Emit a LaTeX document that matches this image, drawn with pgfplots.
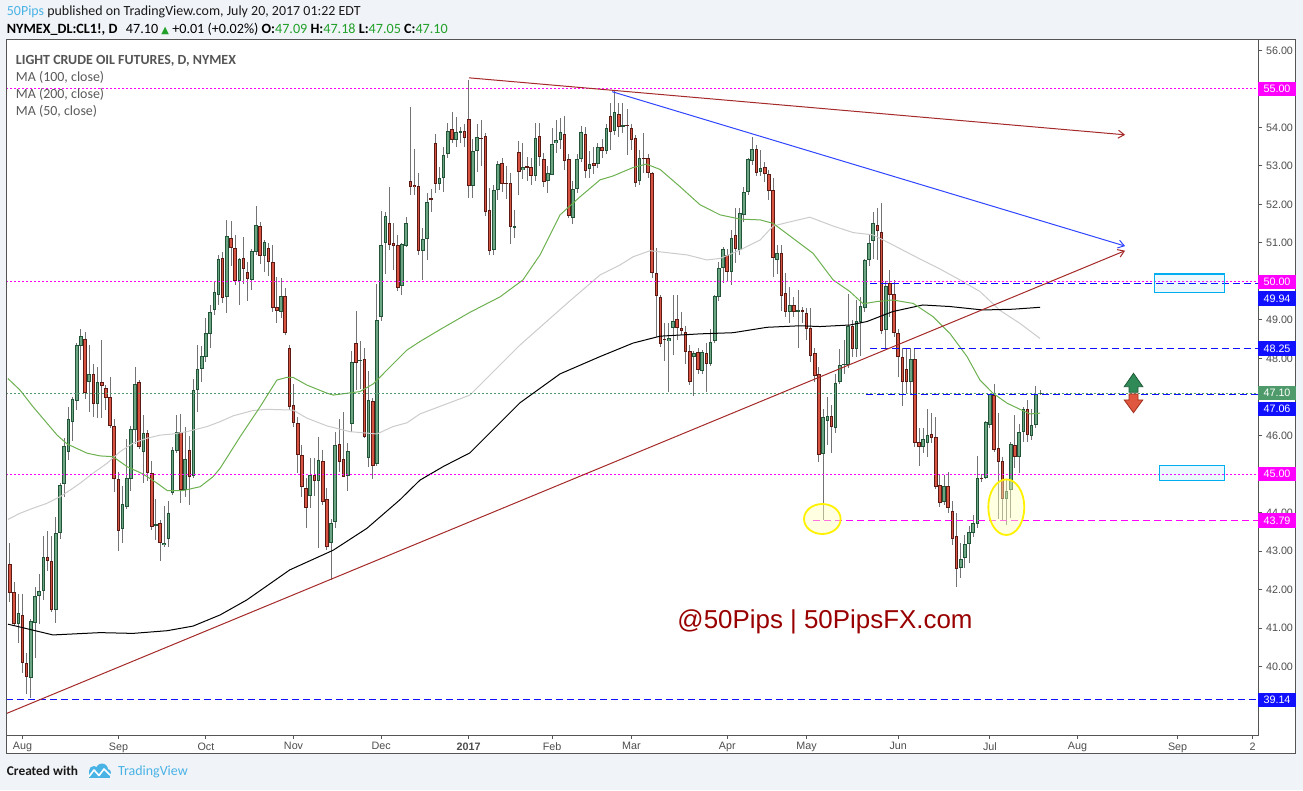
\documentclass[border=0pt]{standalone}
\usepackage{pgfplots}
\pgfplotsset{compat=1.18}
\usepackage{pgfplotstable}
\usepackage{fontspec}
\setmainfont{Liberation Sans}
\newfontfamily\calfont{Carlito}
\newfontfamily\dejavu{DejaVu Sans}
\usetikzlibrary{arrows.meta}

\definecolor{pagebg}{HTML}{F0F3F7}
\definecolor{framec}{HTML}{555555}
\definecolor{labgrey}{HTML}{4D4D4D}
\definecolor{wick}{HTML}{737375}
\definecolor{upf}{HTML}{6BA583}
\definecolor{upb}{HTML}{225437}
\definecolor{dnf}{HTML}{D75442}
\definecolor{dnb}{HTML}{5B1A13}
\definecolor{ma50}{HTML}{6DB150}
\definecolor{ma100}{HTML}{CCCCCC}
\definecolor{mag}{HTML}{FF00FF}
\definecolor{blu}{HTML}{1010FF}
\definecolor{trendred}{HTML}{A52A2A}
\definecolor{trendblue}{HTML}{3045FF}
\definecolor{priceg}{HTML}{4E9A6A}
\definecolor{tvblue}{HTML}{4AB3E6}
\definecolor{hdrgreen}{HTML}{21A12A}
\definecolor{wm}{HTML}{990000}

% up candles: index (trading day, 0 = 1 Aug 2016), open, high, low, close
\pgfplotstableread{
i o h l c
-1 41.10 41.88 40.60 41.38
2 39.69 41.23 39.19 41.17
3 41.14 42.07 40.21 41.83
4 41.83 42.40 41.10 41.97
5 41.97 43.39 41.73 42.85
8 41.48 43.89 41.12 43.46
9 43.46 44.77 43.31 44.71
10 44.75 45.93 44.41 45.73
11 45.58 46.73 45.36 46.43
12 46.36 46.99 45.87 46.95
13 46.90 48.39 46.65 48.35
14 48.33 48.76 47.96 48.58
16 47.40 48.35 46.62 47.60
18 46.81 47.79 46.45 47.40
24 43.56 44.69 43.20 44.22
25 44.15 45.90 44.10 44.89
26 44.86 46.25 44.57 46.17
27 46.13 47.79 45.78 47.34
29 45.58 46.52 44.76 46.06
32 43.65 44.34 43.29 43.70
34 43.16 44.17 43.10 43.22
35 43.30 44.30 43.10 44.00
36 44.50 45.69 44.45 45.62
37 45.61 46.53 45.55 46.08
39 44.58 46.23 44.41 45.38
41 44.96 47.46 44.90 47.18
42 47.18 48.35 46.62 47.72
43 47.72 48.32 47.40 48.06
44 48.05 49.04 47.92 48.65
45 48.64 49.39 48.28 49.20
46 49.26 49.99 49.13 49.72
47 49.65 50.69 49.39 50.58
49 49.59 51.61 49.19 51.18
52 50.01 50.60 49.39 50.58
55 50.05 50.84 49.78 50.79
56 50.77 51.96 50.69 51.47
58 50.67 51.08 50.25 51.03
62 49.22 50.10 49.04 49.62
69 44.43 45.41 44.13 44.97
71 44.83 45.97 43.09 45.36
74 43.20 43.82 42.25 43.74
75 43.76 46.10 43.59 45.75
78 44.95 45.80 44.57 45.60
79 46.30 48.20 46.10 47.90
81 47.95 48.45 47.22 47.96
83 45.42 47.67 45.17 46.92
85 45.25 49.93 45.20 48.99
86 49.09 51.83 48.97 50.95
87 51.01 51.81 50.19 51.70
91 49.88 51.01 49.65 50.97
92 50.93 51.68 50.90 51.51
96 50.80 51.40 50.04 51.10
97 51.11 52.30 50.56 52.06
100 52.54 52.98 52.38 52.68
101 52.70 53.50 52.33 53.29
102 53.30 54.13 53.22 53.91
104 53.68 54.28 53.50 53.87
105 53.88 54.02 53.59 53.90
108 52.49 53.70 52.16 53.39
109 53.40 54.10 52.84 53.76
113 50.82 52.50 50.70 52.39
114 52.39 53.13 52.13 53.05
118 51.41 51.87 51.12 51.44
120 52.89 53.61 52.66 52.97
123 52.75 54.13 52.62 53.74
126 52.62 53.00 52.29 52.81
127 52.78 54.00 52.77 53.57
128 53.59 54.20 53.33 53.68
129 53.68 54.24 53.43 53.88
132 51.66 52.60 51.50 52.40
133 52.40 53.30 52.30 53.18
134 53.17 54.05 53.10 53.88
136 52.92 53.40 52.70 53.05
138 53.04 53.60 52.95 53.49
140 53.40 54.10 53.30 54.00
142 53.92 54.97 53.80 54.39
144 54.04 54.63 53.85 54.06
148 52.60 53.42 52.50 53.22
155 48.46 48.91 47.12 48.52
156 48.78 49.65 48.09 48.97
161 48.05 48.20 47.03 48.15
163 47.68 48.22 47.61 48.16
165 47.87 48.76 47.80 48.44
166 48.46 49.65 48.41 49.62
167 49.61 50.52 49.50 50.34
168 50.34 50.89 49.95 50.85
170 50.26 51.34 49.91 51.14
172 50.82 51.90 50.70 51.77
173 51.73 52.46 51.55 52.32
174 52.33 53.20 52.25 53.17
175 53.14 53.76 53.03 53.43
177 52.85 53.41 52.75 52.96
181 50.55 50.95 50.20 50.75
184 49.22 49.85 48.93 49.39
186 49.24 49.78 48.26 49.25
192 45.51 46.68 43.81 46.47
193 46.37 47.01 45.75 46.50
195 46.19 47.60 46.06 47.37
196 47.40 48.25 47.35 47.83
197 47.84 48.48 47.61 47.87
198 47.83 49.67 47.75 48.85
200 48.24 49.52 48.05 48.97
201 48.96 49.61 48.07 49.36
202 49.32 50.58 49.20 50.56
203 50.55 51.20 50.40 51.00
204 51.06 51.81 50.58 51.53
207 48.74 50.00 48.26 49.88
213 47.40 48.26 47.09 48.00
216 45.71 46.19 45.54 45.90
217 45.80 46.70 45.45 46.01
221 44.26 44.97 44.19 44.69
225 42.55 43.20 42.29 42.78
226 42.81 43.41 42.55 43.18
227 43.18 43.65 42.68 43.50
228 43.47 43.93 43.37 43.74
229 43.70 45.47 43.60 44.90
231 44.90 46.38 44.88 46.34
232 46.27 47.09 46.19 47.07
236 44.34 44.86 43.67 44.56
237 44.59 45.84 43.85 45.79
239 45.45 46.31 45.02 46.10
240 46.10 46.75 45.84 46.68
242 46.00 46.70 45.88 46.27
243 46.27 47.29 46.19 47.09
244 47.09 47.18 47.05 47.10
}\upc

% down candles
\pgfplotstableread{
i o h l c
-3 42.65 43.20 41.68 41.90
-2 41.93 42.20 41.05 41.10
0 41.35 41.88 39.84 40.08
1 40.08 40.34 39.29 39.72
6 42.84 43.53 42.49 42.75
7 42.74 43.39 41.42 41.48
15 48.50 48.70 46.95 47.10
17 47.60 47.87 46.47 46.81
19 47.38 48.48 46.46 47.29
20 47.23 47.31 46.65 46.97
21 46.99 47.51 46.20 46.25
22 46.25 46.43 44.54 44.86
23 44.86 45.04 43.01 43.53
28 47.38 47.45 45.65 45.71
30 46.06 46.14 44.83 45.02
31 45.02 45.35 43.55 43.63
33 43.74 43.80 42.75 43.20
38 46.08 46.56 44.24 44.58
40 45.62 45.99 44.19 44.93
48 50.60 50.77 49.43 49.56
50 51.12 51.57 50.39 50.88
51 50.86 51.21 49.91 50.02
53 50.60 51.16 49.93 50.32
54 50.24 50.51 49.50 50.06
57 51.45 51.55 50.45 50.65
59 50.86 50.99 50.13 50.50
60 50.50 50.95 49.20 49.30
61 49.33 50.11 48.91 49.24
63 49.62 49.82 48.60 48.67
64 48.26 48.35 46.65 46.75
65 46.78 47.35 46.23 46.33
66 46.32 46.47 45.02 45.49
67 45.49 45.75 44.39 44.67
68 44.63 44.89 43.59 44.13
70 44.97 45.41 44.43 44.83
72 45.34 45.62 44.20 44.28
73 44.35 44.63 43.03 43.11
76 45.78 46.42 45.06 45.32
77 45.39 46.62 44.91 44.93
80 48.39 49.23 47.18 47.89
82 47.98 48.26 45.93 45.95
84 46.90 46.97 44.86 45.22
88 51.51 52.46 50.82 50.95
89 51.01 51.51 50.30 50.93
90 50.95 51.22 49.76 49.84
93 52.61 54.54 52.25 52.46
94 52.52 53.44 52.25 52.46
95 52.48 52.81 50.70 50.78
98 52.17 52.40 51.80 52.13
99 53.60 53.82 52.29 52.52
103 53.96 54.41 53.59 53.68
106 53.90 54.10 53.50 53.72
107 54.22 55.23 52.16 52.49
110 53.74 54.20 53.00 53.71
111 53.78 53.85 51.70 51.80
112 51.86 52.42 50.70 50.80
115 53.07 53.20 52.33 52.54
116 52.57 53.00 52.15 52.54
117 52.55 52.83 50.97 51.41
119 53.36 53.66 52.25 52.85
121 52.98 53.23 52.62 52.97
122 52.97 53.20 52.50 52.75
124 53.78 54.11 53.00 53.23
125 53.18 53.35 52.45 52.59
130 53.83 54.30 52.90 53.12
131 53.18 53.30 51.65 51.71
135 53.83 54.00 52.70 52.88
137 53.08 53.50 52.80 53.00
139 53.49 53.70 53.20 53.38
141 54.30 54.63 53.42 53.89
143 54.35 54.63 53.76 54.02
145 54.07 54.47 53.29 54.05
146 53.98 54.10 53.42 53.68
147 53.72 53.80 52.45 52.57
149 53.21 53.85 52.81 53.19
150 53.20 53.30 52.70 52.81
151 52.81 52.85 50.08 50.21
152 50.23 50.86 48.57 49.63
153 49.60 49.65 48.30 48.38
154 48.50 48.91 47.94 48.49
157 49.02 49.65 48.48 48.78
158 48.80 49.22 48.61 48.72
159 48.70 48.85 47.87 48.18
160 48.20 48.35 47.30 47.40
162 48.16 48.26 47.61 47.70
164 48.13 48.39 47.12 47.85
169 50.70 50.84 49.99 50.26
171 51.20 51.90 50.47 50.84
176 53.43 53.55 52.74 52.83
178 52.98 53.10 52.59 52.78
179 52.78 52.90 52.12 52.36
180 52.38 52.68 50.12 50.60
182 50.73 50.95 49.24 49.63
183 49.69 50.23 49.09 49.22
185 49.39 49.60 49.09 49.22
187 49.26 49.33 48.91 49.22
188 49.17 49.30 48.48 48.76
189 48.78 49.30 47.90 48.07
190 48.13 48.26 47.39 47.55
191 47.61 47.77 45.32 45.49
194 46.50 46.79 45.55 46.21
199 48.85 49.00 48.05 48.24
205 51.47 51.90 50.56 51.32
206 51.29 52.03 48.65 48.72
208 49.95 50.30 49.09 49.65
209 49.67 50.04 48.57 48.65
210 48.65 48.77 47.53 48.03
211 48.05 48.26 46.77 47.40
212 47.72 48.26 47.11 47.40
214 48.00 48.26 45.70 45.80
215 45.84 46.19 45.21 45.71
218 46.03 46.58 45.80 45.94
219 45.95 46.49 44.60 44.67
220 44.71 44.97 44.15 44.24
222 44.69 45.06 44.00 44.11
223 44.05 44.30 43.15 43.30
224 43.39 43.98 42.07 42.52
230 44.90 45.00 44.80 44.88
233 47.05 47.35 45.58 45.62
234 45.67 46.58 43.82 45.32
235 45.35 45.45 43.80 44.34
238 45.75 46.53 45.15 45.45
241 46.68 46.92 45.84 46.01
}\dnc

% MA (200, close)
\pgfplotstableread{
i v
-3.5 41.10
7.3 40.82
18.6 40.88
26.5 40.86
34.7 40.93
40.9 41.05
47.4 41.34
53.8 41.73
64.1 42.51
74.5 43.02
82.6 43.59
90.5 44.33
95.3 44.84
101.0 45.20
107.3 45.55
119.3 46.85
128.9 47.60
138.5 48.05
146.4 48.40
152.9 48.58
162.5 48.64
170.4 48.67
178.5 48.81
186.4 48.85
191.3 48.83
198.4 48.87
202.5 48.96
208.7 49.22
215.9 49.39
222.4 49.35
230.3 49.26
237.5 49.28
244.0 49.33
}\maTwo

% MA (50, close)
\pgfplotstableread{
i v
-3.5 47.48
-0.6 47.18
2.5 46.75
8.3 46.01
10.7 45.78
15.5 45.54
18.6 45.47
21.7 45.45
25.1 45.19
28.9 45.00
32.3 44.76
34.7 44.57
38.5 44.57
42.6 44.67
45.7 44.93
47.4 45.15
52.2 45.97
57.0 46.75
61.0 47.44
63.4 47.51
64.9 47.51
68.2 47.31
73.0 47.10
74.5 47.05
80.9 47.14
84.1 47.34
87.4 47.70
92.2 48.22
95.3 48.44
100.1 48.75
107.3 49.20
114.5 49.60
120.0 50.04
124.1 50.69
128.9 51.73
133.7 52.20
138.5 52.64
141.6 52.74
146.4 52.96
149.6 53.05
152.9 52.91
157.7 52.46
162.5 51.99
167.3 51.73
172.1 51.62
176.9 51.60
180.0 51.51
184.8 51.12
189.6 50.73
194.4 50.04
198.4 49.74
201.6 49.42
204.9 49.48
208.7 49.52
213.6 49.43
218.3 49.09
222.4 48.65
226.5 48.05
229.6 47.44
232.7 47.10
236.1 46.84
239.2 46.68
241.6 46.56
244.0 46.58
}\maFifty

% MA (100, close)
\pgfplotstableread{
i v
-3.5 43.82
-0.6 43.98
2.5 44.11
5.9 44.24
9.0 44.41
11.4 44.58
13.8 44.76
16.9 45.02
20.3 45.28
23.4 45.58
26.5 45.80
29.9 45.93
33.0 46.01
36.1 46.04
39.4 46.10
44.2 46.23
47.4 46.36
50.5 46.51
55.3 46.65
58.6 46.68
64.9 46.66
68.2 46.45
73.0 46.25
78.5 46.10
81.7 46.07
85.0 46.04
88.8 46.23
92.2 46.33
95.3 46.56
107.3 47.05
119.3 48.35
131.3 49.50
138.5 50.17
143.3 50.43
146.4 50.64
150.5 50.80
154.5 50.75
159.4 50.69
164.1 50.56
167.3 50.60
172.1 50.82
176.9 51.08
180.0 51.44
183.3 51.53
188.8 51.67
194.4 51.44
199.2 51.27
204.0 51.21
208.7 50.95
215.3 50.58
220.1 50.32
224.8 50.04
229.6 49.74
234.4 49.25
239.2 48.91
244.0 48.52
}\maHund

\newcommand{\pricebox}[4]{% price-centre (px y), fill, text colour, label
  \node[fill=#2, text=#3, minimum width=38bp, minimum height=14.8bp, inner sep=0pt,
        font=\fontsize{10.8}{12}\selectfont] at (1277,{790-#1}) {#4};}

\begin{document}
\begin{tikzpicture}[x=1bp,y=1bp]
\fill[pagebg] (0,0) rectangle (1303,790);
\fill[white] (6,37) rectangle (1295,750);

\begin{axis}[
  at={(6bp,55bp)}, anchor=south west,
  width=1252bp, height=695bp, scale only axis,
  xmin=-3.957, xmax=296.28, ymin=38.221, ymax=56.273,
  axis line style={draw=framec, line width=1bp},
  xtick={0,23,44,65,86,107,127,146,169,188,210,232,253,277,295},
  xticklabels={Aug,Sep,Oct,Nov,Dec,\textbf{2017},Feb,Mar,Apr,May,Jun,Jul,Aug,Sep,2},
  ytick={39,40,...,56},
  yticklabels={{},40.00,41.00,42.00,43.00,44.00,45.00,46.00,{},48.00,49.00,50.00,51.00,52.00,53.00,54.00,55.00,56.00},
  xtick pos=bottom, ytick pos=right, yticklabel pos=right,
  tick align=outside, major tick length=4bp,
  tick style={draw=framec, line width=1bp},
  yticklabel style={xshift=0.5bp},
  ticklabel style={font=\fontsize{10.8}{12}\selectfont, text=labgrey},
]
% ---- candles: wicks
\addplot[draw=none, mark=none, forget plot, error bars/.cd, y dir=both, y explicit, error mark=none,
  error bar style={draw=wick, line width=1bp, solid}]
  table[x=i, y expr={(\thisrow{h}+\thisrow{l})/2}, y error expr={(\thisrow{h}-\thisrow{l})/2}] {\upc};
\addplot[draw=none, mark=none, forget plot, error bars/.cd, y dir=both, y explicit, error mark=none,
  error bar style={draw=wick, line width=1bp, solid}]
  table[x=i, y expr={(\thisrow{h}+\thisrow{l})/2}, y error expr={(\thisrow{h}-\thisrow{l})/2}] {\dnc};
% ---- bodies: border
\addplot[draw=none, mark=none, forget plot, error bars/.cd, y dir=both, y explicit, error mark=none,
  error bar style={draw=upb, line width=3.6bp, solid}]
  table[x=i, y expr={(\thisrow{o}+\thisrow{c})/2}, y error expr={max(abs(\thisrow{c}-\thisrow{o})/2,0.013)}] {\upc};
\addplot[draw=none, mark=none, forget plot, error bars/.cd, y dir=both, y explicit, error mark=none,
  error bar style={draw=dnb, line width=3.6bp, solid}]
  table[x=i, y expr={(\thisrow{o}+\thisrow{c})/2}, y error expr={max(abs(\thisrow{c}-\thisrow{o})/2,0.013)}] {\dnc};
% ---- bodies: fill
\addplot[draw=none, mark=none, forget plot, error bars/.cd, y dir=both, y explicit, error mark=none,
  error bar style={draw=upf, line width=1.6bp, solid}]
  table[x=i, y expr={(\thisrow{o}+\thisrow{c})/2}, y error expr={max(abs(\thisrow{c}-\thisrow{o})/2-0.026,0)}] {\upc};
\addplot[draw=none, mark=none, forget plot, error bars/.cd, y dir=both, y explicit, error mark=none,
  error bar style={draw=dnf, line width=1.6bp, solid}]
  table[x=i, y expr={(\thisrow{o}+\thisrow{c})/2}, y error expr={max(abs(\thisrow{c}-\thisrow{o})/2-0.026,0)}] {\dnc};

% ---- moving averages
\addplot[ma100, line width=1bp, mark=none] table[x=i, y=v] {\maHund};
\addplot[black, line width=1bp, mark=none] table[x=i, y=v] {\maTwo};
\addplot[ma50, line width=1bp, mark=none] table[x=i, y=v] {\maFifty};

% ---- horizontal levels
\addplot[mag, line width=1bp, dash pattern=on 2bp off 2bp] coordinates {(-3.957,55) (296.28,55)};
\addplot[mag, line width=1bp, dash pattern=on 2bp off 2bp] coordinates {(-3.957,50) (296.28,50)};
\addplot[mag, line width=1bp, dash pattern=on 2bp off 2bp] coordinates {(-3.957,45) (296.28,45)};
\addplot[priceg, line width=1bp, dash pattern=on 2bp off 2bp] coordinates {(-3.957,47.10) (296.28,47.10)};
\addplot[blu, line width=1.2bp, dash pattern=on 7bp off 4bp] coordinates {(203.2,49.94) (296.28,49.94)};
\addplot[blu, line width=1.2bp, dash pattern=on 7bp off 4bp] coordinates {(203.2,48.25) (296.28,48.25)};
\addplot[blu, line width=1.2bp, dash pattern=on 7bp off 4bp] coordinates {(202.3,47.06) (296.28,47.06)};
\addplot[mag, line width=1.2bp, dash pattern=on 7bp off 4bp] coordinates {(189.6,43.79) (296.28,43.79)};
\addplot[blu, line width=1.2bp, dash pattern=on 7bp off 4bp] coordinates {(-3.957,39.14) (296.28,39.14)};

% ---- trend lines
\addplot[trendred, line width=1bp, -{Straight Barb[length=6bp,width=8bp]}] coordinates {(107.07,55.29) (264.4,53.81)};
\addplot[trendblue, line width=1bp, -{Straight Barb[length=6bp,width=8bp]}] coordinates {(141.4,54.93) (264.4,50.92)};
\addplot[trendred, line width=1bp, -{Straight Barb[length=6bp,width=8bp]}] coordinates {(-3.957,38.774) (264.4,50.80)};
\end{axis}

% outer frame
\draw[framec, line width=1bp] (6,37) rectangle (1295,750);

% price boxes on the right scale
\pricebox{89}{mag}{white}{55.00}
\pricebox{282}{mag}{white}{50.00}
\pricebox{298.5}{blu}{white}{49.94}
\pricebox{348.8}{blu}{white}{48.25}
\pricebox{393}{priceg}{white}{47.10}
\pricebox{409}{blu}{white}{47.06}
\pricebox{474}{mag}{white}{45.00}
\pricebox{520.6}{mag}{white}{43.79}
\pricebox{700}{blu}{white}{39.14}

% cyan zones
\draw[cyan, line width=1.3bp, fill=cyan, fill opacity=0.08] (1154.3,{790-274}) rectangle (1224.7,{790-292.7});
\draw[cyan, line width=1.3bp, fill=cyan, fill opacity=0.08] (1159.3,{790-465.4}) rectangle (1224.7,{790-480.6});

% yellow ellipses
\draw[yellow, line width=1.8bp, fill={rgb,255:red,255;green,255;blue,190}, fill opacity=0.45]
  (822.3,{790-519}) ellipse [x radius=18.3, y radius=15];
\draw[yellow, line width=1.8bp, fill={rgb,255:red,255;green,255;blue,190}, fill opacity=0.45]
  (1006.3,{790-507.2}) ellipse [x radius=18, y radius=27.8];

% fat arrows
\filldraw[fill={rgb,255:red,47;green,138;blue,87}, draw={rgb,255:red,30;green,90;blue,55}, line width=0.8bp]
  (1133.5,416.7) -- (1142.8,403.3) -- (1138,403.3) -- (1138,397.7) -- (1129,397.7) -- (1129,403.3) -- (1124.2,403.3) -- cycle;
\filldraw[fill={rgb,255:red,224;green,87;blue,63}, draw={rgb,255:red,160;green,48;blue,31}, line width=0.8bp]
  (1129,396) -- (1138,396) -- (1138,390) -- (1142.8,390) -- (1133.5,377.3) -- (1124.2,390) -- (1129,390) -- cycle;

% watermark
\node[text=wm, font=\fontsize{26}{30}\selectfont, inner sep=0] at (825,{790-622}) {@50Pips | 50PipsFX.com};

% legend block
\node[anchor=base west, inner sep=0, text={rgb,255:red,85;green,85;blue,85}, font=\calfont\bfseries\fontsize{14}{16}\selectfont] at (15.7,{790-65}) {LIGHT CRUDE OIL FUTURES, D, NYMEX};
\node[anchor=base west, inner sep=0, text={rgb,255:red,90;green,90;blue,90}, font=\calfont\fontsize{14}{16}\selectfont] at (15.7,{790-82}) {MA (100, close)};
\node[anchor=base west, inner sep=0, text={rgb,255:red,90;green,90;blue,90}, font=\calfont\fontsize{14}{16}\selectfont] at (15.7,{790-99}) {MA (200, close)};
\node[anchor=base west, inner sep=0, text={rgb,255:red,90;green,90;blue,90}, font=\calfont\fontsize{14}{16}\selectfont] at (15.7,{790-116}) {MA (50, close)};

% header
\node[anchor=base west, inner sep=0, font=\calfont\fontsize{14}{16}\selectfont, text={rgb,255:red,25;green,25;blue,25}] at (6.7,{790-16})
  {\textcolor{tvblue}{50Pips} published on TradingView.com, July 20, 2017 01:22 EDT};
\node[anchor=base west, inner sep=0, font=\calfont\fontsize{14.2}{16}\selectfont, text=black] at (6.7,{790-34})
  {\textbf{NYMEX\_DL:CL1!, D}\hspace{0.6em}47.10 {\dejavu\fontsize{10}{12}\selectfont\textcolor{hdrgreen}{▲}} +0.01 (+0.02\%) \textbf{O:}\textcolor{hdrgreen}{47.09} \textbf{H:}\textcolor{hdrgreen}{47.18} \textbf{L:}\textcolor{hdrgreen}{47.05} \textbf{C:}\textcolor{hdrgreen}{47.10}};

% footer
\node[anchor=base west, inner sep=0, font=\calfont\bfseries\fontsize{13.4}{15}\selectfont, text={rgb,255:red,25;green,25;blue,25}] at (6.7,{790-775.7}) {Created with};
\fill[tvblue] (89,12.5) rectangle (110,19);
\fill[tvblue] (94,19) circle (5);
\fill[tvblue] (102,20.5) circle (6);
\fill[tvblue] (107.5,17.5) circle (3.5);
\draw[white, line width=1.6bp, line join=round] (89,13.5) -- (94,20) -- (99,14.5) -- (104,21) -- (110,15);
\node[anchor=base west, inner sep=0, font=\calfont\fontsize{14}{16}\selectfont, text=tvblue] at (118,{790-775.7}) {TradingView};

\pgfresetboundingbox
\path (0,0) rectangle (1303,790);
\end{tikzpicture}
\end{document}
